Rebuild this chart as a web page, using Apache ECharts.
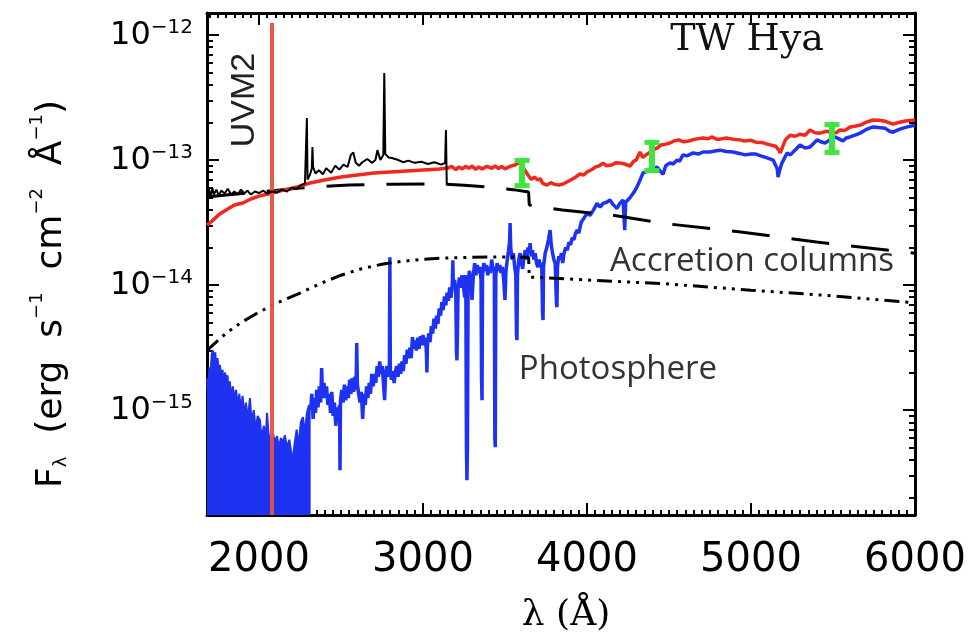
<!DOCTYPE html>
<html>
<head>
<meta charset="utf-8">
<title>TW Hya</title>
<script src="https://cdn.jsdelivr.net/npm/echarts@6/dist/echarts.min.js"></script>
<style>
  html, body { margin: 0; padding: 0; background: #fff; }
  #main { width: 976px; height: 640px; }
</style>
</head>
<body>
<div id="main"></div>
<script>
// axis ranges: wavelength in Å, flux in erg s^-1 cm^-2 Å^-1
var xMin = 1683, xMax = 6000;
var yMin = 1.45e-16, yMax = 1.5e-12;

var xTickLabels = [2000, 3000, 4000, 5000, 6000];
var yTickLabels = [1e-15, 1e-14, 1e-13, 1e-12];

// UVM2 filter position and the flux span of its marker line
var uvm2Lambda = 2080;
var uvm2Span = [1.45e-16, 1.25e-12];

// photometry points (green bars)
var photLambda = [3604, 4396, 5494];
var photLow = [5.97e-14, 7.87e-14, 1.10e-13];
var photHigh = [1.04e-13, 1.45e-13, 2.01e-13];

// photosphere template, noisy far-UV part (drawn filled)
var photosphereUV = [
  [1683,1.8e-15],[1690,1.2e-15],[1697,2.2e-15],[1705,2.0e-15],[1712,2.8e-15],[1720,3.0e-15],[1727,2.4e-15],
  [1733,2.9e-15],[1740,2.2e-15],[1748,2.6e-15],[1755,1.9e-15],[1762,2.3e-15],[1770,1.8e-15],[1778,2.1e-15],
  [1786,1.5e-15],[1793,2.0e-15],[1800,1.7e-15],[1808,1.9e-15],[1815,1.4e-15],[1822,1.7e-15],[1830,1.3e-15],
  [1841,1.55e-15],[1850,1.2e-15],[1860,1.45e-15],[1870,1.1e-15],[1880,1.35e-15],[1890,1.0e-15],[1900,1.3e-15],
  [1910,9e-16],[1920,1.15e-15],[1932,8.5e-16],[1945,1.25e-15],[1955,8e-16],[1968,1.0e-15],[1980,7e-16],
  [1992,9e-16],[2006,8.3e-16],[2015,6e-16],[2030,7.5e-16],[2040,5.5e-16],[2049,9.5e-16],[2058,6.5e-16],
  [2070,5.5e-16],[2085,6.5e-16],[2098,5.5e-16],[2110,6.2e-16],[2120,5.0e-16],[2134,6.0e-16],[2146,5.5e-16],
  [2158,6.3e-16],[2170,5.0e-16],[2185,5.8e-16],[2197,4.5e-16],[2207,4.2e-16],[2218,5.5e-16],[2230,7e-16],
  [2240,5.0e-16],[2255,8.0e-16],[2268,8.8e-16],[2280,6.5e-16],[2292,9.5e-16],[2305,1.1e-15],[2315,1.0e-15]
];

// photosphere template (blue line)
var photosphere = [
  [2315,1.0e-15],[2322,1.35e-15],[2330,8.5e-16],[2338,1.25e-15],[2345,9.5e-16],[2352,1.45e-15],[2360,1.05e-15],
  [2368,1.55e-15],[2376,1.15e-15],[2382,2.17e-15],[2388,1.25e-15],[2396,1.65e-15],[2404,1.25e-15],[2412,1.55e-15],
  [2420,1.1e-15],[2428,1.35e-15],[2436,9.5e-16],[2444,1.4e-15],[2452,9e-16],[2460,1.15e-15],[2468,7.5e-16],
  [2476,1.05e-15],[2484,8e-16],[2491,1.1e-15],[2494,3.3e-16],[2497,1.2e-15],[2505,1.45e-15],[2513,1.15e-15],
  [2521,1.6e-15],[2529,1.2e-15],[2537,1.55e-15],[2545,1.25e-15],[2553,1.75e-15],[2561,1.35e-15],[2569,1.8e-15],
  [2577,1.4e-15],[2585,1.85e-15],[2592,1.45e-15],[2596,3.44e-15],[2600,1.6e-15],[2608,1.35e-15],[2616,1.15e-15],
  [2624,1.4e-15],[2632,8.5e-16],[2640,1.35e-15],[2648,1.1e-15],[2656,1.55e-15],[2664,1.25e-15],[2672,1.65e-15],
  [2680,1.35e-15],[2688,1.95e-15],[2696,1.55e-15],[2704,1.95e-15],[2712,1.65e-15],[2720,2.25e-15],[2728,1.85e-15],
  [2736,2.45e-15],[2744,1.95e-15],[2752,2.25e-15],[2760,1.55e-15],[2766,1.2e-15],[2772,1.95e-15],[2780,2.25e-15],
  [2788,1.85e-15],[2795,2.15e-15],[2798,1.67e-14],[2801,2.0e-15],[2808,1.75e-15],[2816,2.05e-15],[2824,1.65e-15],
  [2832,2.05e-15],[2840,2.25e-15],[2848,1.85e-15],[2856,2.35e-15],[2864,1.95e-15],[2872,2.45e-15],[2880,2.05e-15],
  [2888,2.75e-15],[2896,2.35e-15],[2904,3.05e-15],[2912,2.6e-15],[2920,3.15e-15],[2928,2.6e-15],[2936,3.84e-15],
  [2944,3.1e-15],[2952,3.6e-15],[2960,3.0e-15],[2968,3.8e-15],[2976,3.1e-15],[2984,3.9e-15],[2992,3.3e-15],
  [3000,4.0e-15],[3008,3.3e-15],[3016,3.8e-15],[3021,2.8e-15],[3024,2.0e-15],[3027,3.3e-15],[3035,4.1e-15],
  [3043,3.5e-15],[3051,4.7e-15],[3059,4.1e-15],[3067,5.4e-15],[3075,4.5e-15],[3083,5.7e-15],[3091,4.9e-15],
  [3099,6.5e-15],[3107,5.7e-15],[3115,7.3e-15],[3123,6.3e-15],[3131,8.1e-15],[3139,6.9e-15],[3147,8.7e-15],
  [3155,7.5e-15],[3163,9.6e-15],[3171,7.9e-15],[3179,1.05e-14],[3182,1.58e-14],[3185,9.5e-15],[3193,1.1e-14],
  [3200,8.5e-15],[3204,3.0e-15],[3207,2.5e-15],[3210,4e-15],[3214,9.5e-15],[3222,1.15e-14],[3230,9.5e-15],
  [3238,1.2e-14],[3246,1.0e-14],[3254,8e-15],[3261,1.2e-14],[3265,5e-16],[3268,2.75e-16],[3271,5e-16],
  [3275,1.05e-14],[3283,1.3e-14],[3291,1.1e-14],[3299,7.6e-15],[3307,1.2e-14],[3315,1.5e-14],[3323,1.2e-14],
  [3331,1.45e-14],[3339,1.25e-14],[3347,1.4e-14],[3354,1.1e-14],[3357,1.8e-15],[3360,1.2e-15],[3363,1.2e-14],
  [3371,1.5e-14],[3379,1.3e-14],[3387,1.45e-14],[3395,1.2e-14],[3403,1.4e-14],[3411,1.25e-14],[3419,1.6e-14],
  [3427,1.3e-14],[3435,1.4e-14],[3438,6e-16],[3441,5.06e-16],[3444,1.2e-14],[3452,1.5e-14],[3460,1.3e-14],
  [3468,1.45e-14],[3476,1.25e-14],[3484,1.4e-14],[3492,1.1e-14],[3500,7.6e-15],[3506,1.3e-14],[3514,1.6e-14],
  [3522,1.9e-14],[3528,2.2e-14],[3531,3.13e-14],[3535,2.0e-14],[3543,1.6e-14],[3551,1.8e-14],[3559,1.4e-14],
  [3566,1.2e-14],[3570,4e-15],[3573,3.63e-15],[3576,1.2e-14],[3584,1.6e-14],[3592,1.8e-14],[3600,1.5e-14],
  [3608,1.35e-14],[3616,1.7e-14],[3624,1.9e-14],[3632,1.6e-14],[3640,2.0e-14],[3648,1.8e-14],[3653,2.17e-14],
  [3660,1.7e-14],[3668,1.9e-14],[3676,1.6e-14],[3684,1.8e-14],[3692,1.5e-14],[3700,1.39e-14],[3708,1.6e-14],
  [3716,1.4e-14],[3724,1.5e-14],[3729,6e-15],[3732,5.25e-15],[3735,1.4e-14],[3745,1.8e-14],[3755,2.0e-14],
  [3765,2.3e-14],[3775,2.75e-14],[3782,2.1e-14],[3790,1.8e-14],[3798,1.6e-14],[3806,1.5e-14],[3814,7e-15],
  [3817,6.67e-15],[3820,1.4e-14],[3828,1.7e-14],[3836,1.6e-14],[3844,1.8e-14],[3852,1.5e-14],[3860,1.8e-14],
  [3870,2.0e-14],[3880,1.9e-14],[3890,2.2e-14],[3900,2.1e-14],[3910,2.4e-14],[3920,2.3e-14],[3930,2.6e-14],
  [3940,2.75e-14],[3950,2.6e-14],[3965,3.2e-14],[3980,3.4e-14],[4000,3.77e-14],[4018,3.6e-14],[4040,4.0e-14],
  [4061,4.5e-14],[4080,4.2e-14],[4098,4.5e-14],[4120,4.6e-14],[4140,4.79e-14],[4160,4.4e-14],[4183,4.1e-14],
  [4200,4.5e-14],[4220,4.8e-14],[4230,2.75e-14],[4236,4.6e-14],[4262,5.0e-14],[4285,5.5e-14],[4305,6.1e-14],
  [4325,7.0e-14],[4342,7.9e-14],[4365,8.1e-14],[4384,8.3e-14],[4410,8.6e-14],[4427,8.8e-14],[4445,8.2e-14],
  [4464,7.7e-14],[4480,9.0e-14],[4506,9.5e-14],[4525,9.3e-14],[4549,1.0e-13],[4565,9.8e-14],[4585,1.1e-13],
  [4610,1.08e-13],[4647,1.14e-13],[4680,1.12e-13],[4708,1.16e-13],[4750,1.16e-13],[4780,1.18e-13],[4811,1.2e-13],
  [4850,1.17e-13],[4890,1.16e-13],[4930,1.13e-13],[4964,1.1e-13],[5000,1.12e-13],[5025,1.12e-13],[5060,1.08e-13],
  [5098,1.04e-13],[5135,1.0e-13],[5160,8.5e-14],[5165,7.3e-14],[5175,8.3e-14],[5189,9.5e-14],[5220,1.14e-13],
  [5240,1.1e-13],[5268,1.2e-13],[5299,1.32e-13],[5330,1.25e-13],[5360,1.27e-13],[5380,1.35e-13],[5403,1.45e-13],
  [5425,1.4e-13],[5452,1.37e-13],[5480,1.45e-13],[5513,1.53e-13],[5540,1.47e-13],[5561,1.42e-13],[5580,1.5e-13],
  [5604,1.53e-13],[5635,1.58e-13],[5665,1.64e-13],[5700,1.75e-13],[5744,1.84e-13],[5780,1.82e-13],[5817,1.8e-13],
  [5845,1.7e-13],[5866,1.67e-13],[5900,1.75e-13],[5927,1.8e-13],[5960,1.85e-13],[6000,1.9e-13]
];

// total model (red)
var totalModel = [
  [1683,3.02e-14],[1720,3.31e-14],[1760,3.7e-14],[1800,3.98e-14],[1850,4.37e-14],[1902,4.53e-14],[1950,4.88e-14],
  [2000,5.15e-14],[2080,5.45e-14],[2150,5.75e-14],[2230,6.08e-14],[2311,6.55e-14],[2400,6.92e-14],[2500,7.31e-14],
  [2600,7.59e-14],[2700,7.87e-14],[2800,8.02e-14],[2900,8.17e-14],[3000,8.32e-14],[3100,8.47e-14],[3150,8.63e-14],
  [3175,8.9e-14],[3200,8.4e-14],[3220,8.8e-14],[3240,8.5e-14],[3260,8.9e-14],[3280,8.6e-14],[3300,8.95e-14],
  [3320,8.45e-14],[3340,8.8e-14],[3360,8.5e-14],[3390,8.9e-14],[3420,8.6e-14],[3440,9.0e-14],[3460,8.55e-14],
  [3480,8.9e-14],[3500,8.5e-14],[3530,8.9e-14],[3560,9.12e-14],[3590,9.6e-14],[3605,9.0e-14],[3620,8.32e-14],
  [3640,7.6e-14],[3660,7.0e-14],[3680,7.3e-14],[3700,6.92e-14],[3715,7.1e-14],[3730,6.5e-14],[3756,6.31e-14],
  [3780,6.6e-14],[3800,6.4e-14],[3830,6.3e-14],[3854,6.43e-14],[3880,6.7e-14],[3900,6.92e-14],[3930,7.3e-14],
  [3957,7.73e-14],[3980,7.6e-14],[4000,8.02e-14],[4030,8.4e-14],[4050,8.79e-14],[4075,9.0e-14],[4098,9.46e-14],
  [4120,9.0e-14],[4150,9.12e-14],[4175,9.5e-14],[4200,9.46e-14],[4230,9.3e-14],[4262,8.95e-14],[4285,9.8e-14],
  [4300,1.0e-13],[4323,1.16e-13],[4340,1.05e-13],[4360,1.1e-13],[4400,1.2e-13],[4430,1.25e-13],[4450,1.32e-13],
  [4480,1.34e-13],[4506,1.37e-13],[4530,1.42e-13],[4560,1.45e-13],[4590,1.4e-13],[4620,1.42e-13],[4660,1.47e-13],
  [4707,1.5e-13],[4740,1.48e-13],[4760,1.53e-13],[4790,1.47e-13],[4811,1.47e-13],[4850,1.5e-13],[4890,1.47e-13],
  [4930,1.45e-13],[4960,1.42e-13],[5000,1.44e-13],[5030,1.39e-13],[5070,1.38e-13],[5100,1.34e-13],[5150,1.29e-13],
  [5170,1.2e-13],[5177,1.14e-13],[5190,1.25e-13],[5210,1.45e-13],[5238,1.58e-13],[5270,1.55e-13],[5300,1.61e-13],
  [5330,1.58e-13],[5360,1.74e-13],[5390,1.65e-13],[5420,1.64e-13],[5460,1.7e-13],[5494,1.67e-13],[5520,1.65e-13],
  [5540,1.74e-13],[5570,1.72e-13],[5604,1.84e-13],[5640,1.87e-13],[5670,1.91e-13],[5700,2.0e-13],[5744,2.09e-13],
  [5780,2.08e-13],[5820,2.04e-13],[5866,1.94e-13],[5900,2.0e-13],[5940,2.05e-13],[6000,2.09e-13]
];

// observed UV spectrum (black)
var observed = [
  [1683,5.15e-14],[1695,5.86e-14],[1705,5.0e-14],[1715,6.0e-14],[1725,5.3e-14],[1740,5.8e-14],[1755,5.2e-14],
  [1770,5.7e-14],[1790,5.4e-14],[1810,5.9e-14],[1830,5.3e-14],[1850,5.6e-14],[1870,5.3e-14],[1890,5.8e-14],
  [1910,5.4e-14],[1930,5.7e-14],[1950,5.3e-14],[1975,5.6e-14],[2000,5.45e-14],[2025,5.7e-14],[2050,5.4e-14],
  [2080,5.6e-14],[2110,5.5e-14],[2140,5.8e-14],[2170,5.6e-14],[2200,6.0e-14],[2230,5.9e-14],[2255,6.3e-14],
  [2280,6.5e-14],[2288,6.6e-14],[2292,2.17e-13],[2296,7.0e-14],[2310,7.6e-14],[2322,8.5e-14],[2326,1.27e-13],
  [2330,8.8e-14],[2345,7.8e-14],[2365,8.3e-14],[2390,7.7e-14],[2410,8.6e-14],[2440,7.9e-14],[2465,9.0e-14],
  [2490,8.4e-14],[2515,9.2e-14],[2540,8.8e-14],[2560,1.1e-13],[2575,1.15e-13],[2590,9.5e-14],[2610,9.0e-14],
  [2630,9.6e-14],[2660,1.02e-13],[2690,9.5e-14],[2710,1.0e-13],[2722,1.2e-13],[2740,1.0e-13],[2758,1.1e-13],
  [2764,4.97e-13],[2770,1.12e-13],[2790,1.05e-13],[2810,1.04e-13],[2850,1.0e-13],[2880,9.6e-14],[2910,9.9e-14],
  [2950,9.5e-14],[2990,9.7e-14],[3030,9.3e-14],[3070,9.6e-14],[3110,9.2e-14],[3135,9.5e-14],[3140,1.74e-13],
  [3145,6.3e-14]
];

// accretion column models: dashed and dash-dot-dot
var accretionDashed = [
  [1683,5.06e-14],[1800,5.25e-14],[2000,5.55e-14],[2100,5.7e-14],[2250,5.97e-14],[2400,6.15e-14],[2550,6.31e-14],
  [2800,6.4e-14],[3100,6.43e-14],[3250,6.3e-14],[3400,6.08e-14],[3550,5.8e-14],[3644,5.55e-14],[3648,4.37e-14],
  [3850,3.98e-14],[4150,3.63e-14],[4500,3.08e-14],[4950,2.65e-14],[5400,2.21e-14],[6000,1.8e-14]
];
var accretionDotted = [
  [1683,3.0e-15],[1800,4.13e-15],[1900,5.1e-15],[2000,6.08e-15],[2100,7.1e-15],[2250,8.63e-15],[2375,1.03e-14],
  [2500,1.2e-14],[2625,1.35e-14],[2750,1.47e-14],[2875,1.55e-14],[3000,1.61e-14],[3150,1.65e-14],[3300,1.67e-14],
  [3450,1.68e-14],[3644,1.67e-14],[3648,1.16e-14],[4000,1.1e-14],[4500,1.02e-14],[5000,9.1e-15],[5500,8.2e-15],
  [6000,7.2e-15]
];

// minor tick positions
var xMinorTicks = [];
for (var v = 1700; v <= 6000; v += 50) xMinorTicks.push(v);
var yMinorTicks = [];
for (var e = -16; e <= -12; e++) {
  for (var k = 2; k <= 9; k++) {
    var t = k * Math.pow(10, e);
    if (t > yMin && t < yMax) yMinorTicks.push(t);
  }
}

var BLUE = '#1e32f2';
var GREEN = '#3ee53e';
var sans = 'DejaVu Sans';
var gridBox = { left: 207, right: 61, top: 13, bottom: 125, containLabel: false, outerBoundsMode: 'none' };

function xAxisDef(grid, pos, ticks, len, withLine, withLabel) {
  return {
    gridIndex: grid, type: 'value', min: xMin, max: xMax, position: pos,
    axisLine: { show: withLine, onZero: false, lineStyle: { color: '#000', width: 3 } },
    axisTick: { show: true, inside: true, customValues: ticks, length: len, lineStyle: { color: '#000', width: 2 } },
    axisLabel: withLabel ? {
      customValues: xTickLabels, margin: 26, color: '#000', fontFamily: sans, fontSize: 40,
      formatter: function (val) { return String(val); }
    } : { show: false },
    splitLine: { show: false }
  };
}

function yAxisDef(grid, pos, ticks, len, withLine, withLabel) {
  return {
    gridIndex: grid, type: 'log', logBase: 10, min: yMin, max: yMax, position: pos,
    axisLine: { show: withLine, lineStyle: { color: '#000', width: 3 } },
    axisTick: { show: true, inside: true, customValues: ticks, length: len, lineStyle: { color: '#000', width: 2 } },
    axisLabel: withLabel ? {
      customValues: yTickLabels, margin: 14, color: '#000',
      formatter: function (val) {
        var p = Math.round(Math.log(val) / Math.LN10);
        return '{b|10}{s|\u2212' + Math.abs(p) + '}';
      },
      rich: {
        b: { fontFamily: sans, fontSize: 32, lineHeight: 34, verticalAlign: 'bottom', color: '#000' },
        s: { fontFamily: sans, fontSize: 20, lineHeight: 21, padding: [0, 0, 22, 0], verticalAlign: 'top', color: '#000' }
      }
    } : { show: false },
    splitLine: { show: false }
  };
}

var chart = echarts.init(document.getElementById('main'), null, { renderer: 'canvas' });

chart.setOption({
  animation: false,
  backgroundColor: '#fff',
  // second grid sits on the first one and only carries the minor ticks
  grid: [gridBox, gridBox],
  xAxis: [
    xAxisDef(0, 'bottom', xTickLabels, 12, true, true),
    xAxisDef(0, 'top', xTickLabels, 12, true, false),
    xAxisDef(1, 'bottom', xMinorTicks, 5, false, false),
    xAxisDef(1, 'top', xMinorTicks, 5, false, false)
  ],
  yAxis: [
    yAxisDef(0, 'left', yTickLabels, 12, true, true),
    yAxisDef(0, 'right', yTickLabels, 12, true, false),
    yAxisDef(1, 'left', yMinorTicks, 6, false, false),
    yAxisDef(1, 'right', yMinorTicks, 6, false, false)
  ],
  series: [
    {
      name: 'Photosphere UV', type: 'line', data: photosphereUV, showSymbol: false, z: 2,
      lineStyle: { color: BLUE, width: 2 },
      areaStyle: { color: BLUE, opacity: 1, origin: 'start' }
    },
    {
      name: 'Photosphere', type: 'line', data: photosphere, showSymbol: false, z: 2,
      lineStyle: { color: BLUE, width: 3.5 }
    },
    {
      name: 'Accretion dotted', type: 'line', data: accretionDotted, showSymbol: false, z: 3,
      lineStyle: { color: '#000', width: 3, type: [15, 6, 3, 6, 3, 6, 3, 6] }
    },
    {
      name: 'Accretion columns', type: 'line', data: accretionDashed, showSymbol: false, z: 3,
      lineStyle: { color: '#000', width: 3, type: [38, 22] }
    },
    {
      name: 'Total', type: 'line', data: totalModel, showSymbol: false, z: 4,
      lineStyle: { color: '#f0281e', width: 3.5 }
    },
    {
      name: 'Observed', type: 'line', data: observed, showSymbol: false, z: 5,
      lineStyle: { color: '#000', width: 2 }
    },
    {
      name: 'Photometry', type: 'custom', z: 6,
      data: photLambda.map(function (l, i) { return [l, photLow[i], photHigh[i]]; }),
      encode: { x: 0, y: [1, 2] },
      renderItem: function (params, api) {
        var lo = api.coord([api.value(0), api.value(1)]);
        var hi = api.coord([api.value(0), api.value(2)]);
        var barW = 6, capW = 15, capH = 5;
        return {
          type: 'group',
          children: [
            { type: 'rect', shape: { x: lo[0] - barW / 2, y: hi[1], width: barW, height: lo[1] - hi[1] }, style: { fill: GREEN } },
            { type: 'rect', shape: { x: hi[0] - capW / 2, y: hi[1], width: capW, height: capH }, style: { fill: GREEN } },
            { type: 'rect', shape: { x: lo[0] - capW / 2, y: lo[1] - capH, width: capW, height: capH }, style: { fill: GREEN } }
          ]
        };
      }
    },
    {
      name: 'UVM2', type: 'line', data: [], z: 7,
      markLine: {
        silent: true, symbol: 'none', label: { show: false },
        lineStyle: { color: '#e8503c', width: 4, type: 'solid', opacity: 0.95 },
        data: [[{ coord: [uvm2Lambda, uvm2Span[0]] }, { coord: [uvm2Lambda, uvm2Span[1]] }]]
      }
    }
  ],
  graphic: [
    {
      type: 'text', x: 747, y: 40, z: 10,
      style: { text: 'TW Hya', fontFamily: 'DejaVu Serif', fontSize: 38, fill: '#111', align: 'center', verticalAlign: 'middle' }
    },
    {
      type: 'text', x: 245, y: 100, rotation: Math.PI / 2, z: 10,
      style: { text: 'UVM2', fontFamily: 'Liberation Sans', fontSize: 34, fill: '#222', align: 'center', verticalAlign: 'middle' }
    },
    {
      type: 'text', x: 752, y: 262, z: 10,
      style: { text: 'Accretion columns', fontFamily: 'Open Sans', fontSize: 33, fill: '#333', align: 'center', verticalAlign: 'middle' }
    },
    {
      type: 'text', x: 618, y: 370, z: 10,
      style: { text: 'Photosphere', fontFamily: 'Open Sans', fontSize: 33, fill: '#333', align: 'center', verticalAlign: 'middle' }
    },
    {
      type: 'text', x: 566, y: 616, z: 10,
      style: { text: '\u03bb (\u00c5)', fontFamily: 'DejaVu Serif', fontSize: 36, fill: '#000', align: 'center', verticalAlign: 'middle' }
    },
    {
      type: 'text', x: 49, y: 294, rotation: Math.PI / 2, z: 10,
      style: {
        text: '{m|F}{sub|\u03bb}{m|  (erg  s}{sup|\u22121}{m|  cm}{sup|\u22122}{m|  \u00c5}{sup|\u22121}{m|)}',
        align: 'center', verticalAlign: 'middle',
        rich: {
          m: { fontFamily: sans, fontSize: 36, lineHeight: 42, verticalAlign: 'bottom', color: '#000' },
          sub: { fontFamily: sans, fontSize: 18, lineHeight: 18, verticalAlign: 'bottom', color: '#000' },
          sup: { fontFamily: sans, fontSize: 18, lineHeight: 18, verticalAlign: 'top', color: '#000' }
        }
      }
    }
  ]
});
</script>
</body>
</html>
